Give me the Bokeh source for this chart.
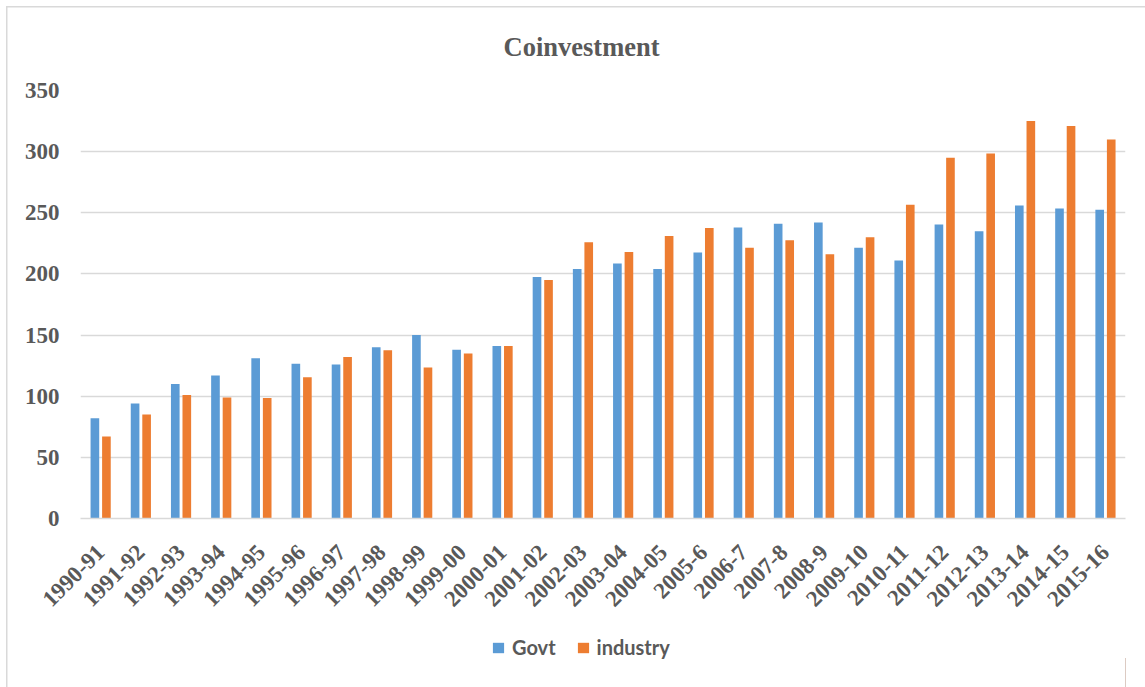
import math
from bokeh.plotting import figure
from bokeh.layouts import column
from bokeh.models import (ColumnDataSource, FactorRange, FixedTicker, Legend,
                          LegendItem, InlineStyleSheet)
from bokeh.transform import dodge
from bokeh.embed import file_html
from bokeh.resources import INLINE

years = ["1990-91", "1991-92", "1992-93", "1993-94", "1994-95", "1995-96",
         "1996-97", "1997-98", "1998-99", "1999-00", "2000-01", "2001-02",
         "2002-03", "2003-04", "2004-05", "2005-6", "2006-7", "2007-8",
         "2008-9", "2009-10", "2010-11", "2011-12", "2012-13", "2013-14",
         "2014-15", "2015-16"]
govt = [82, 94, 110, 117, 131, 126.5, 126, 140, 150, 138, 141, 197.5,
        204, 208.5, 204, 217.5, 238, 241, 242, 221.5, 211, 240.5, 235,
        256, 253.5, 252.5]
industry = [67, 85, 101, 99, 98.5, 115.5, 132, 137.5, 123.5, 135, 141, 195,
            226, 218, 231, 237.5, 221.5, 227.5, 216, 230, 256.5, 295, 298.5,
            325, 321, 310]
y_ticks = [0, 50, 100, 150, 200, 250, 300, 350]
series_names = ["Govt", "industry"]

BLUE = "#5B9BD5"
ORANGE = "#ED7D31"
TEXT = "#595959"
GRID = "#D9D9D9"
SERIF = "Liberation Serif"

source = ColumnDataSource(dict(year=years, govt=govt, industry=industry))

# ---- main chart -----------------------------------------------------------
p = figure(frame_width=1045, frame_height=428,
           x_range=FactorRange(factors=years, range_padding=0),
           y_range=(0, 350),
           min_border_left=80, min_border_right=20,
           min_border_top=90, min_border_bottom=110,
           output_backend="svg", toolbar_location=None,
           title="Coinvestment")

p.title.align = "left"
p.title.offset = 423
p.title.text_font = SERIF
p.title.text_font_size = "26.5px"
p.title.text_font_style = "bold"
p.title.text_color = TEXT
p.title.standoff = 58

p.outline_line_color = None
p.background_fill_color = "white"
p.border_fill_alpha = 0

# chart-area border (top and left edges) painted behind the canvas
p.stylesheets = [InlineStyleSheet(css="""
:host {
  background:
    linear-gradient(#D9D9D9, #D9D9D9) 6px 6px / 100% 1.5px no-repeat,
    linear-gradient(#D9D9D9, #D9D9D9) 6px 6px / 1.5px 100% no-repeat,
    #FFFFFF;
}
""")]

p.vbar(x=dodge("year", -0.142, range=p.x_range), top="govt",
       width=0.215, source=source, fill_color=BLUE, line_color=None)
p.vbar(x=dodge("year", 0.145, range=p.x_range), top="industry",
       width=0.215, source=source, fill_color=ORANGE, line_color=None)

# y axis
p.yaxis.ticker = FixedTicker(ticks=y_ticks)
p.yaxis.axis_line_color = None
p.yaxis.major_tick_line_color = None
p.yaxis.minor_tick_line_color = None
p.yaxis.major_label_text_font = SERIF
p.yaxis.major_label_text_font_size = "23px"
p.yaxis.major_label_text_font_style = "bold"
p.yaxis.major_label_text_color = TEXT
p.yaxis.major_label_standoff = 15

p.ygrid.grid_line_color = GRID
p.ygrid.grid_line_width = 1.5
p.xgrid.grid_line_color = None

# x axis
p.xaxis.axis_line_color = GRID
p.xaxis.axis_line_width = 1.5
p.xaxis.major_tick_line_color = None
p.xaxis.minor_tick_line_color = None
p.xaxis.major_label_orientation = math.pi / 4
p.xaxis.major_label_text_font = SERIF
p.xaxis.major_label_text_font_size = "23px"
p.xaxis.major_label_text_font_style = "bold"
p.xaxis.major_label_text_color = TEXT
p.xaxis.major_label_standoff = 24

# ---- legend strip under the chart -----------------------------------------
q = figure(width=1145, height=59, x_range=(0, 1), y_range=(0, 1),
           x_axis_location=None, y_axis_location=None, min_border=0,
           output_backend="svg", toolbar_location=None)
q.grid.visible = False
q.outline_line_color = None
q.background_fill_alpha = 0
q.border_fill_alpha = 0
q.stylesheets = [InlineStyleSheet(css="""
:host {
  background:
    linear-gradient(#D9D9D9, #D9D9D9) 6px 0 / 1.5px 100% no-repeat,
    #FFFFFF;
}
""")]

# swatch renderers sit outside the strip's visible range; only their
# styling is used by the legend
swatch_govt = q.vbar(x=[5], top=[0.5], width=0.1, fill_color=BLUE,
                     line_color=None)
swatch_ind = q.vbar(x=[5], top=[0.5], width=0.1, fill_color=ORANGE,
                    line_color=None)

legend = Legend(items=[LegendItem(label=series_names[0], renderers=[swatch_govt]),
                       LegendItem(label=series_names[1], renderers=[swatch_ind])],
                orientation="horizontal", location=(411, 28),
                padding=0, margin=0, spacing=20,
                glyph_width=14, glyph_height=13, label_standoff=7,
                label_text_font="Lato", label_text_font_style="bold",
                label_text_font_size="20px", label_text_color=TEXT,
                border_line_color=None, background_fill_alpha=0)
q.add_layout(legend, "center")

layout = column(p, q, spacing=0)

open("out.html", "w").write(file_html(layout, INLINE))
